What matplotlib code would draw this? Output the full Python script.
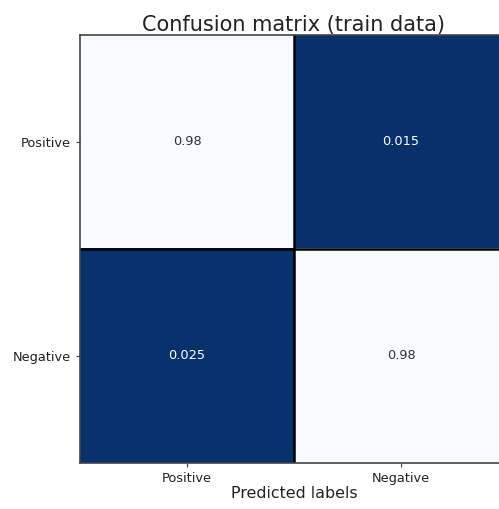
import matplotlib.pyplot as plt
import numpy as np

labels = ["Positive", "Negative"]
cm = np.array([[0.98, 0.015],
               [0.025, 0.98]])
cell_text = [["0.98", "0.015"],
             ["0.025", "0.98"]]

fig = plt.figure(figsize=(4.99, 5.09), dpi=100)
ax = fig.add_axes([0.1603, 0.0904, 0.8577, 0.8409])

ax.imshow(cm, cmap="Blues_r", aspect="auto", vmin=cm.min(), vmax=cm.max())

# black separators between the cells
ax.axhline(0.5, color="black", lw=1.8)
ax.axvline(0.5, color="black", lw=1.8)

for i in range(2):
    for j in range(2):
        color = "white" if cm[i, j] < 0.5 else "#333333"
        ax.text(j, i, cell_text[i][j], ha="center", va="center",
                fontsize=9.3, color=color)

ax.set_xticks(range(2))
ax.set_yticks(range(2))
ax.set_xticklabels(labels, fontsize=9.3)
ax.set_yticklabels(labels, fontsize=9.3)
ax.tick_params(length=3, width=0.8, color="#444444", labelcolor="#222222")
for s in ax.spines.values():
    s.set_color("#444444")
    s.set_linewidth(1.2)

ax.set_xlabel("Predicted labels", fontsize=11.4, labelpad=1, color="#222222")
ax.set_title("Confusion matrix (train data)", fontsize=15, pad=3, color="#222222")

fig.savefig("out.png", dpi=100)
